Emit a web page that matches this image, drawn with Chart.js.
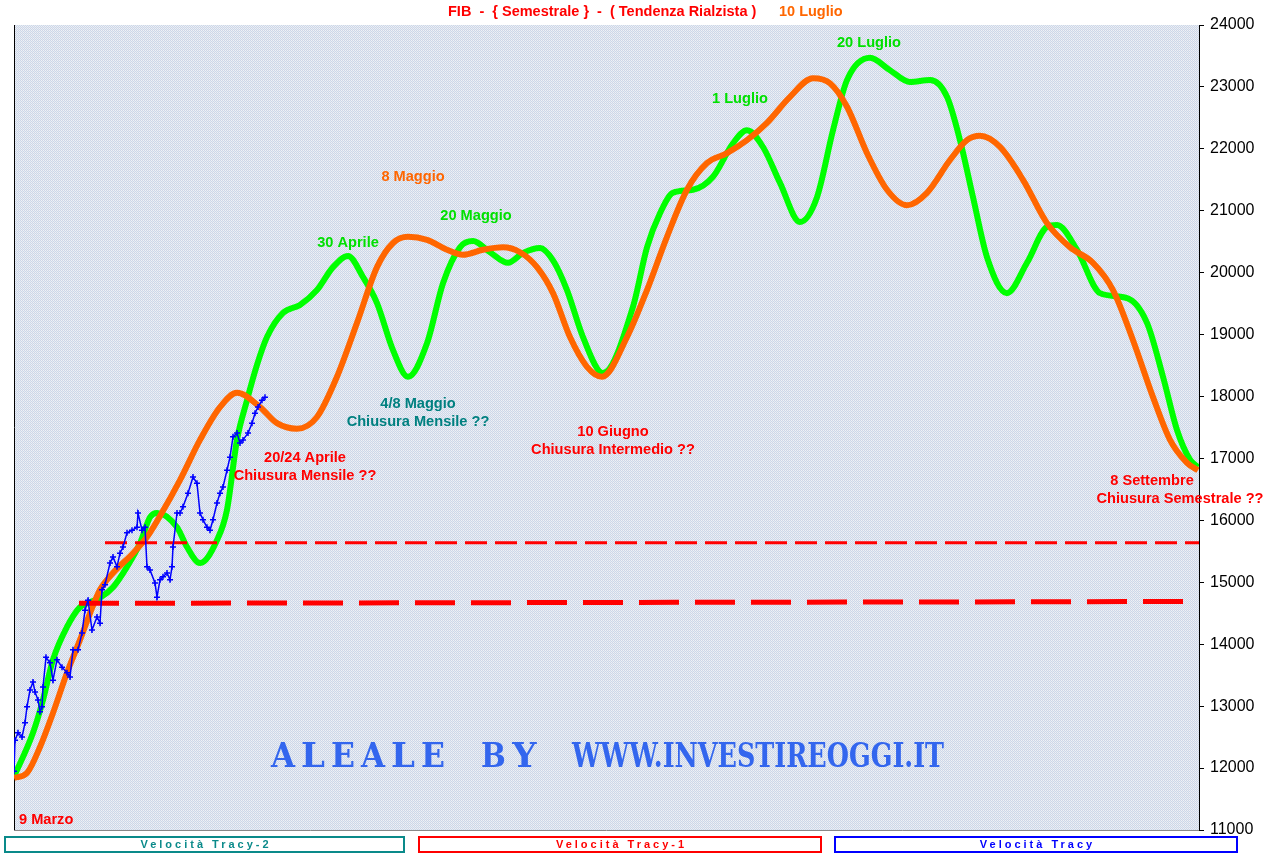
<!DOCTYPE html>
<html><head><meta charset="utf-8">
<script src="https://cdn.jsdelivr.net/npm/chart.js@4.4.0/dist/chart.umd.min.js"></script>
<style>html,body{margin:0;padding:0;background:#fff;overflow:hidden}canvas{display:block}</style>
</head><body>
<canvas id="c" width="1280" height="863"></canvas>
<script>
// ---- data (t = time step across the half-year window, v = FIB level) ----
const tracy2T = [0,19,29,39,53,66,76,86,99,113,126,136,143,163,173,186,203,213,223,233,243,253,269,286,303,319,334,349,363,379,394,413,429,446,459,476,494,509,526,539,553,569,589,619,633,646,659,679,699,719,733,749,766,786,803,819,833,856,876,896,916,933,946,959,973,993,1013,1033,1043,1063,1086,1113,1133,1149,1163,1176,1184];
const tracy2V = [11860,12570,13100,13750,14280,14600,14680,14750,14920,15250,15630,16050,16120,15890,15570,15310,15680,16170,17300,17940,18510,18960,19350,19480,19720,20090,20270,19930,19510,18750,18320,18860,19830,20410,20510,20330,20160,20320,20400,20200,19720,18960,18380,19450,20410,20960,21290,21340,21550,22090,22300,22030,21450,20820,21220,22300,23110,23470,23270,23080,23110,22840,22140,21220,20250,19670,20160,20740,20770,20370,19670,19590,19190,18320,17460,16980,16860];

const tracy1T = [0,13,26,39,53,66,76,86,99,119,133,146,166,186,206,223,246,263,283,303,323,343,363,379,394,413,433,449,469,489,506,523,539,556,573,588,613,633,653,673,693,713,733,753,776,799,816,833,853,873,893,913,936,953,966,986,1009,1033,1056,1079,1099,1119,1139,1156,1173,1184];
const tracy1V = [11840,11920,12340,12890,13540,14070,14500,14880,15150,15470,15730,16070,16650,17300,17830,18060,17830,17570,17480,17670,18320,19190,20090,20480,20580,20530,20370,20290,20370,20410,20330,20090,19670,18960,18480,18320,18960,19720,20580,21340,21770,21930,22140,22420,22840,23140,23060,22680,21930,21340,21090,21290,21820,22140,22210,22030,21500,20800,20410,20160,19720,18910,17990,17300,16930,16810];

const tracyT = [0,1,4,8,11,13,16,19,21,24,26,28,29,32,36,39,43,48,53,56,59,64,68,71,74,78,83,86,88,91,96,99,103,106,109,113,118,123,124,128,131,133,136,141,143,146,149,153,156,158,159,163,166,169,174,179,183,186,189,193,196,199,203,206,209,213,216,219,223,226,229,234,238,241,244,248,251];
const tracyV = [11950,12450,12570,12500,12730,12990,13260,13390,13230,13100,12910,12990,13310,13790,13700,13420,13750,13630,13540,13470,13910,13910,14180,14550,14710,14230,14440,14340,14880,14960,15310,15410,15250,15470,15570,15800,15840,15890,16120,15840,15890,15250,15200,14990,14760,15040,15090,15150,15040,15250,15570,16120,16120,16220,16440,16700,16600,16120,16010,15890,15840,16010,16280,16440,16540,16810,17020,17350,17410,17250,17300,17410,17570,17730,17830,17940,17990];

const supportHighT = [91,1185];
const supportHighV = [15640,15640];
const supportLowT = [65,1185];
const supportLowV = [14660,14690];

const yMin = 11000, yMax = 24000, yStep = 1000;
const titleMain = "FIB  -  { Semestrale }  -  ( Tendenza Rialzista )";
const titleDate = "10 Luglio";
const legendLabels = ["Velocità Tracy-2", "Velocità Tracy-1", "Velocità Tracy"];
const watermark = ["ALEALE", "BY", "WWW.INVESTIREOGGI.IT"];

// annotation notes anchored in data coordinates
const notes = [
  {t:334, v:20480, text:"30 Aprile", color:"#00e000", align:"center"},
  {t:399, v:21545, text:"8 Maggio", color:"#ff6600", align:"center"},
  {t:462, v:20916, text:"20 Maggio", color:"#00e000", align:"center"},
  {t:726, v:22805, text:"1 Luglio", color:"#00e000", align:"center"},
  {t:855, v:23710, text:"20 Luglio", color:"#00e000", align:"center"},
  {t:404, v:17880, text:"4/8 Maggio", color:"#008080", align:"center"},
  {t:404, v:17590, text:"Chiusura Mensile ??", color:"#008080", align:"center"},
  {t:291, v:17010, text:"20/24 Aprile", color:"#ff0000", align:"center"},
  {t:291, v:16720, text:"Chiusura Mensile ??", color:"#ff0000", align:"center"},
  {t:599, v:17430, text:"10 Giugno", color:"#ff0000", align:"center"},
  {t:599, v:17140, text:"Chiusura Intermedio ??", color:"#ff0000", align:"center"},
  {t:1138, v:16640, text:"8 Settembre", color:"#ff0000", align:"center"},
  {t:1166, v:16350, text:"Chiusura Semestrale ??", color:"#ff0000", align:"center"},
  {t:5, v:11160, text:"9 Marzo", color:"#ff0000", align:"left"}
];

const pts = (T, V) => T.map((t, i) => ({x: t, y: V[i]}));

let patternCanvas = null;
function getPattern(ctx){
  if(!patternCanvas){
    patternCanvas = document.createElement('canvas');
    patternCanvas.width = 2; patternCanvas.height = 2;
    const pc = patternCanvas.getContext('2d');
    pc.fillStyle = '#cfd5e7'; pc.fillRect(0,0,1,1); pc.fillRect(1,1,1,1);
    pc.fillStyle = '#eef2f6'; pc.fillRect(1,0,1,1);
    pc.fillStyle = '#e2edf4'; pc.fillRect(0,1,1,1);
  }
  return ctx.createPattern(patternCanvas, 'repeat');
}

const decor = {
  id: 'decor',
  beforeDraw(chart){
    const {ctx, chartArea: a} = chart;
    ctx.save();
    ctx.fillStyle = '#fff';
    ctx.fillRect(0, 0, chart.width, chart.height);
    ctx.fillStyle = getPattern(ctx);
    ctx.fillRect(a.left, a.top, a.right - a.left, a.bottom - a.top);
    ctx.restore();
  },
  beforeDatasetsDraw(chart){
    const {ctx, chartArea: a} = chart;
    ctx.save();
    // watermark
    ctx.fillStyle = '#3366ee';
    ctx.font = 'bold 34px "DejaVu Serif"';
    ctx.textBaseline = 'alphabetic';
    const base = 767;
    const drawSpaced = (txt, left, right) => {
      const n = txt.length;
      const cell = (right - left) / n;
      for (let i = 0; i < n; i++) {
        const w = ctx.measureText(txt[i]).width;
        const cx = left + cell * (i + 0.5);
        const sx = Math.min(1, (cell * 0.8) / w);
        ctx.save();
        ctx.translate(cx, base);
        ctx.scale(sx, 1);
        ctx.fillText(txt[i], -w / 2, 0);
        ctx.restore();
      }
    };
    drawSpaced(watermark[0], 268, 448);
    drawSpaced(watermark[1], 478, 540);
    const w3 = ctx.measureText(watermark[2]).width;
    ctx.save();
    ctx.translate(572, base);
    ctx.scale(372 / w3, 1);
    ctx.fillText(watermark[2], 0, 0);
    ctx.restore();
    // frame lines
    ctx.strokeStyle = '#000'; ctx.lineWidth = 1;
    ctx.beginPath(); ctx.moveTo(a.left + 0.5, a.top); ctx.lineTo(a.left + 0.5, a.bottom); ctx.stroke();
    ctx.strokeStyle = '#888';
    ctx.beginPath(); ctx.moveTo(a.left, a.bottom + 0.5); ctx.lineTo(a.right, a.bottom + 0.5); ctx.stroke();
    ctx.restore();
  },
  afterDraw(chart){
    const {ctx, scales: {x, y}} = chart;
    ctx.save();
    // title
    ctx.font = 'bold 14.5px "Liberation Sans"';
    ctx.textBaseline = 'middle';
    ctx.textAlign = 'left';
    ctx.fillStyle = '#ff0000';
    ctx.fillText(titleMain, 448, 12);
    ctx.fillStyle = '#ff6600';
    ctx.fillText(titleDate, 779, 12);
    // notes
    ctx.font = 'bold 14.6px "Liberation Sans"';
    notes.forEach(n => {
      ctx.fillStyle = n.color;
      ctx.textAlign = n.align;
      ctx.fillText(n.text, x.getPixelForValue(n.t), y.getPixelForValue(n.v));
    });
    // legend boxes
    const boxes = [[4, 836, 401, 17, '#0a8a8a'], [418, 836, 404, 17, '#ff0000'], [834, 836, 404, 17, '#0000ff']];
    ctx.font = 'bold 11px "Liberation Sans"';
    ctx.textAlign = 'center';
    boxes.forEach((b, i) => {
      ctx.fillStyle = '#fff';
      ctx.fillRect(b[0], b[1], b[2], b[3]);
      ctx.strokeStyle = b[4];
      ctx.lineWidth = 2;
      ctx.strokeRect(b[0] + 1, b[1] + 1, b[2] - 2, b[3] - 2);
      ctx.fillStyle = b[4];
      if ('letterSpacing' in ctx) ctx.letterSpacing = '3px';
      ctx.fillText(legendLabels[i], b[0] + b[2] / 2 + 1.5, b[1] + b[3] / 2 + 0.5);
      if ('letterSpacing' in ctx) ctx.letterSpacing = '0px';
    });
    ctx.restore();
  }
};

new Chart(document.getElementById('c'), {
  type: 'line',
  data: {
    datasets: [
      {label: legendLabels[2], data: pts(tracyT, tracyV), borderColor: '#0000ff', backgroundColor: '#0000ff',
       borderWidth: 1.5, pointStyle: 'cross', pointRadius: 3, pointBorderWidth: 1.5, tension: 0, order: 1},
      {label: 'Supporto alto', data: pts(supportHighT, supportHighV), borderColor: '#ff0000', borderWidth: 3,
       borderDash: [22, 8], pointRadius: 0, order: 2},
      {label: 'Supporto basso', data: pts(supportLowT, supportLowV), borderColor: '#ff0000', borderWidth: 5,
       borderDash: [40, 16], pointRadius: 0, order: 3},
      {label: legendLabels[1], data: pts(tracy1T, tracy1V), borderColor: '#ff6600', borderWidth: 6,
       pointRadius: 0, cubicInterpolationMode: 'monotone', order: 4},
      {label: legendLabels[0], data: pts(tracy2T, tracy2V), borderColor: '#00ff00', borderWidth: 6,
       pointRadius: 0, cubicInterpolationMode: 'monotone', order: 5}
    ]
  },
  options: {
    responsive: false,
    animation: false,
    layout: {padding: {left: 14, top: 25, right: 0, bottom: 33}},
    plugins: {legend: {display: false}, tooltip: {enabled: false}, title: {display: false}},
    scales: {
      x: {type: 'linear', min: 0, max: 1185, display: false},
      y: {
        position: 'right', min: yMin, max: yMax,
        afterFit(scale){ scale.width = 81; },
        ticks: {stepSize: yStep, color: '#000', padding: 6, font: {family: '"Liberation Sans"', size: 16},
                callback: v => String(v)},
        grid: {drawOnChartArea: false, drawTicks: true, tickLength: 5, color: '#000'},
        border: {display: true, color: '#000', width: 1}
      }
    }
  },
  plugins: [decor]
});
</script>
</body></html>
